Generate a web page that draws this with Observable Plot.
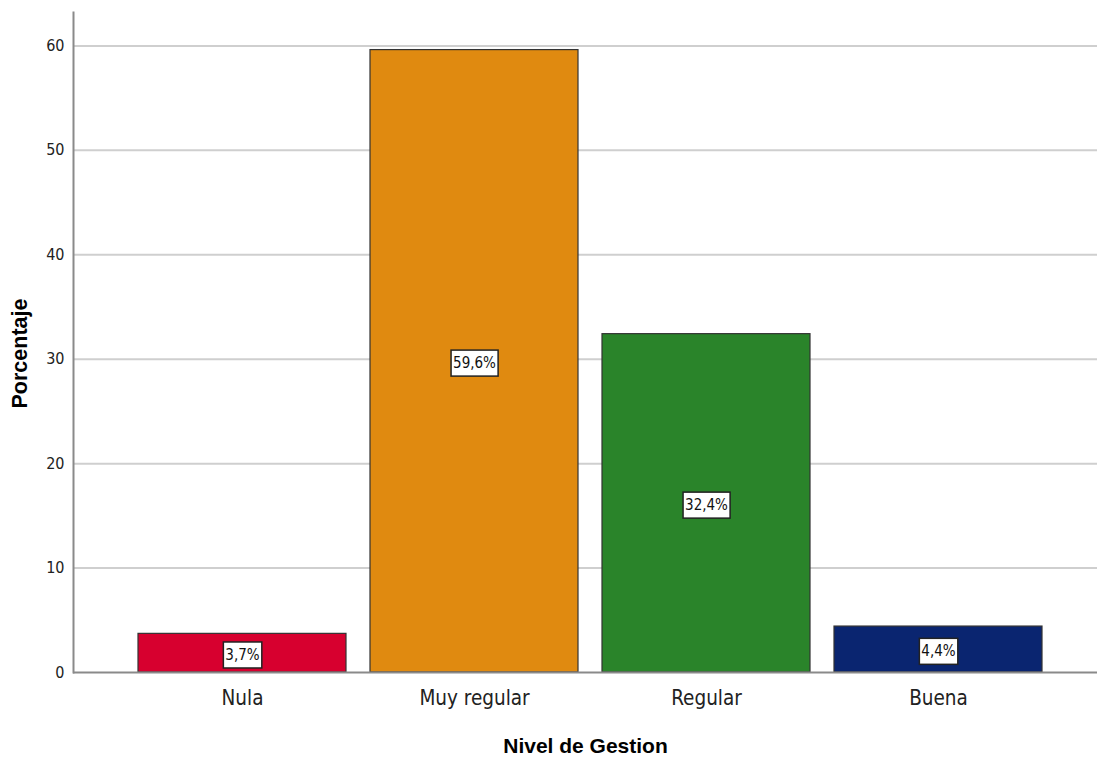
<!DOCTYPE html>
<html><head><meta charset="utf-8">
<script src="https://cdn.jsdelivr.net/npm/d3@7"></script>
<script src="https://cdn.jsdelivr.net/npm/@observablehq/plot@0.6"></script>
<style>
body{margin:0;background:#fff;}
</style></head><body><div id="chart"></div>
<script>
const categories = ["Nula", "Muy regular", "Regular", "Buena"];
const percentages = [3.7, 59.6, 32.4, 4.4];
const valueLabels = ["3,7%", "59,6%", "32,4%", "4,4%"];
const colors = ["#d7002f", "#e08a10", "#2a842a", "#0a2570"];
const yTicks = [0, 10, 20, 30, 40, 50, 60];
const gridTicks = [10, 20, 30, 40, 50, 60];
const xTitle = "Nivel de Gestion";
const yTitle = "Porcentaje";

const data = categories.map((c, i) => ({category: c, value: percentages[i], label: valueLabels[i]}));
const narrow = '"Liberation Sans Narrow","Arial Narrow","DejaVu Sans Condensed",sans-serif';
const bold = '"Liberation Sans",Arial,sans-serif';

const chart = Plot.plot({
  width: 1097, height: 764,
  marginLeft: 73, marginRight: 0, marginTop: 12, marginBottom: 92,
  style: {background: "#fff", fontFamily: narrow},
  x: {domain: categories, paddingInner: 0.103, paddingOuter: 0.249, align: 0.54, label: null},
  y: {domain: [0, 63.2], label: null},
  color: {domain: categories, range: colors},
  marks: [
    Plot.ruleY(gridTicks, {stroke: "#cfcfcf", strokeWidth: 2}),
    Plot.barY(data, {x: "category", y: "value", fill: "category", stroke: "#333", strokeWidth: 1.2}),
    Plot.text(data, {x: "category", y: d => d.value / 2, dy: 2, text: "label", fontSize: 15, fill: "#111", className: "vlabel"}),
    Plot.ruleY([0], {stroke: "#8a8a8a", strokeWidth: 2}),
    Plot.frame({anchor: "left", stroke: "#8a8a8a", strokeWidth: 2}),
    Plot.axisY(yTicks, {tickSize: 0, tickPadding: 9, fontSize: 16, label: null, fill: "#222"}),
    Plot.axisX({tickSize: 0, tickPadding: 18, fontSize: 20.5, label: null, fill: "#222"}),
    Plot.text([xTitle], {text: d => d, frameAnchor: "bottom", dy: 80, fontSize: 21, fontWeight: "bold", fontFamily: bold, fill: "#000"}),
    Plot.text([yTitle], {text: d => d, frameAnchor: "left", textAnchor: "middle", dx: -53, dy: 11, rotate: -90, fontSize: 21.5, fontWeight: "bold", fontFamily: bold, fill: "#000"})
  ]
});
document.getElementById("chart").appendChild(chart);

// white boxes with dark border behind the value labels
chart.querySelectorAll(".vlabel text").forEach(t => {
  const b = t.getBBox();
  const r = document.createElementNS("http://www.w3.org/2000/svg", "rect");
  const px = 2, py = 4;
  r.setAttribute("x", b.x - px);
  r.setAttribute("y", b.y - py);
  r.setAttribute("width", b.width + 2 * px);
  r.setAttribute("height", b.height + 2 * py);
  r.setAttribute("fill", "#fff");
  r.setAttribute("stroke", "#222");
  r.setAttribute("stroke-width", "1.5");
  const tr = t.getAttribute("transform");
  if (tr) r.setAttribute("transform", tr);
  t.parentNode.insertBefore(r, t);
});
</script></body></html>
